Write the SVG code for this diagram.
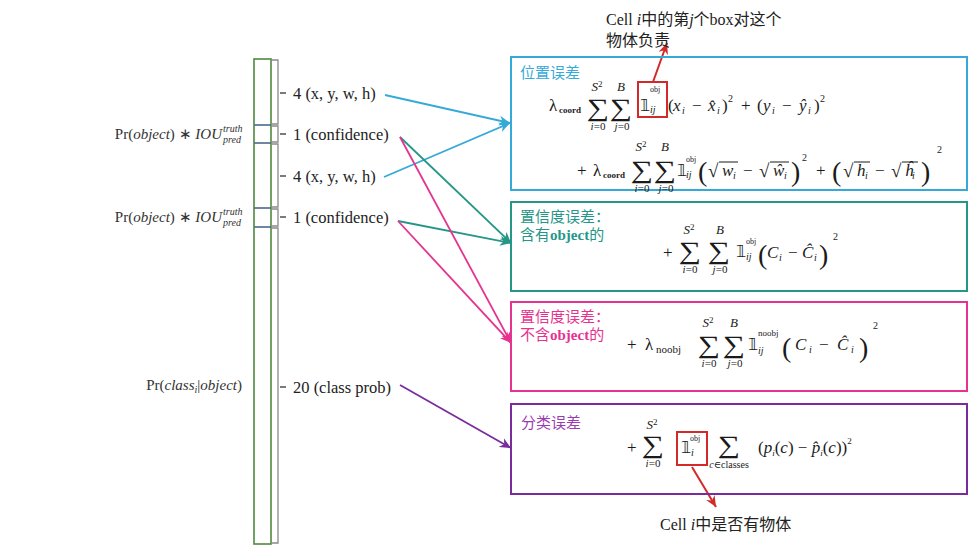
<svg xmlns="http://www.w3.org/2000/svg" width="979" height="558" viewBox="0 0 979 558">
<style>
.m{font-family:"Liberation Serif","DejaVu Serif",serif;fill:#1a1a1a}
.i{font-style:italic}
.sig{font-size:25px;text-anchor:middle}
.lim{font-size:11px;text-anchor:middle}
.sup{font-size:13px;text-anchor:middle}
.sm{font-size:10px}
.bb{font-family:"DejaVu Sans","DejaVu Serif",serif;font-size:16px;fill:#1a1a1a}
.lbl{font-family:"Liberation Serif",serif;font-size:16.5px;fill:#222}
.pr{font-family:"Liberation Serif",serif;font-size:15px;fill:#333}
.cn{font-family:"Liberation Serif","Noto Sans CJK SC",sans-serif;font-size:15px}
.ann{font-family:"Liberation Serif","Noto Sans CJK SC",serif;font-size:16px;fill:#222}
.box{fill:none;stroke-width:2}
.con{fill:none;stroke-width:1.8}
.red{fill:none;stroke:#d22a2a;stroke-width:2}
.vin{stroke:#1a1a1a;stroke-width:1}
</style>
<defs>
<marker id="mc" viewBox="0 0 10 10" refX="10" refY="5" markerWidth="11" markerHeight="11" markerUnits="userSpaceOnUse" orient="auto"><path d="M0,0.5 L10,5 L0,9.5 L3,5 z" fill="#35a9d8"/></marker>
<marker id="mt" viewBox="0 0 10 10" refX="10" refY="5" markerWidth="11" markerHeight="11" markerUnits="userSpaceOnUse" orient="auto"><path d="M0,0.5 L10,5 L0,9.5 L3,5 z" fill="#259688"/></marker>
<marker id="mm" viewBox="0 0 10 10" refX="10" refY="5" markerWidth="11" markerHeight="11" markerUnits="userSpaceOnUse" orient="auto"><path d="M0,0.5 L10,5 L0,9.5 L3,5 z" fill="#e6338f"/></marker>
<marker id="mp" viewBox="0 0 10 10" refX="10" refY="5" markerWidth="11" markerHeight="11" markerUnits="userSpaceOnUse" orient="auto"><path d="M0,0.5 L10,5 L0,9.5 L3,5 z" fill="#7a2c9c"/></marker>
<marker id="mr" viewBox="0 0 10 10" refX="10" refY="5" markerWidth="11" markerHeight="11" markerUnits="userSpaceOnUse" orient="auto"><path d="M0,0.5 L10,5 L0,9.5 L3,5 z" fill="#d22a2a"/></marker>
</defs>
<rect width="979" height="558" fill="#fff"/>

<g id="column">
<rect x="254" y="59" width="17" height="485" fill="none" stroke="#4f8a3c" stroke-width="1.6"/>
<g stroke="#4a6a8a" stroke-width="1.6">
<line x1="254" y1="125" x2="271" y2="125"/><line x1="254" y1="143" x2="271" y2="143"/>
<line x1="254" y1="208" x2="271" y2="208"/><line x1="254" y1="227" x2="271" y2="227"/>
</g>
<g fill="none" stroke="#8a8a8a" stroke-width="1.3">
<path d="M271,60 H278 V124 H271"/><path d="M271,126 H278 V142 H271"/><path d="M271,144 H278 V207 H271"/><path d="M271,209 H278 V226 H271"/><path d="M271,228 H278 V543 H271"/>
</g>
<g stroke="#333" stroke-width="1.3">
<line x1="280" y1="93" x2="286" y2="93"/><line x1="280" y1="134" x2="286" y2="134"/><line x1="280" y1="176" x2="286" y2="176"/><line x1="280" y1="217" x2="286" y2="217"/><line x1="280" y1="387" x2="286" y2="387"/>
</g>
<text class="lbl" x="293" y="99">4 (x, y, w, h)</text>
<text class="lbl" x="293" y="140">1 (confidence)</text>
<text class="lbl" x="293" y="182">4 (x, y, w, h)</text>
<text class="lbl" x="293" y="223">1 (confidence)</text>
<text class="lbl" x="293" y="393">20 (class prob)</text>
<text class="pr" x="222" y="139" text-anchor="end">Pr(<tspan class="i">object</tspan>) ∗ <tspan class="i">IOU</tspan></text>
<text class="pr i" x="223" y="132" style="font-size:10px">truth</text>
<text class="pr i" x="223" y="143" style="font-size:10px">pred</text>
<text class="pr" x="222" y="222" text-anchor="end">Pr(<tspan class="i">object</tspan>) ∗ <tspan class="i">IOU</tspan></text>
<text class="pr i" x="223" y="215" style="font-size:10px">truth</text>
<text class="pr i" x="223" y="226" style="font-size:10px">pred</text>
<text class="pr" x="242" y="390" text-anchor="end">Pr(<tspan class="i">class</tspan><tspan class="i" style="font-size:10px" dy="3">i</tspan><tspan dy="-3">|</tspan><tspan class="i">object</tspan>)</text>
</g>

<g id="connectors">
<line class="con" x1="385" y1="95" x2="510" y2="123" stroke="#35a9d8" marker-end="url(#mc)"/>
<line class="con" x1="384" y1="177" x2="510" y2="123" stroke="#35a9d8" marker-end="url(#mc)"/>
<line class="con" x1="400" y1="137" x2="511" y2="243" stroke="#259688" marker-end="url(#mt)"/>
<line class="con" x1="398" y1="221" x2="511" y2="243" stroke="#259688" marker-end="url(#mt)"/>
<line class="con" x1="400" y1="137" x2="511" y2="343" stroke="#e6338f" marker-end="url(#mm)"/>
<line class="con" x1="398" y1="221" x2="511" y2="343" stroke="#e6338f" marker-end="url(#mm)"/>
<line class="con" x1="400" y1="385" x2="511" y2="448" stroke="#7a2c9c" marker-end="url(#mp)"/>
<line x1="653" y1="82" x2="667" y2="43" stroke="#d22a2a" stroke-width="2" marker-end="url(#mr)"/>
<line x1="692" y1="467" x2="716" y2="507" stroke="#d22a2a" stroke-width="2" marker-end="url(#mr)"/>
</g>

<g id="annotations">
<text class="ann" x="606" y="25">Cell <tspan font-style="italic">i</tspan>中的第<tspan font-style="italic">j</tspan>个box对这个</text>
<text class="ann" x="606" y="46">物体负责</text>
<text class="ann" x="660" y="530">Cell <tspan font-style="italic">i</tspan>中是否有物体</text>
</g>

<g id="box-location" font-size="17">
<rect class="box" x="511" y="57" width="456" height="133" stroke="#35a9d8"/>
<text class="cn" x="520" y="78" fill="#35a9d8">位置误差</text>
<rect class="red" x="638" y="82" width="29" height="35"/>
<text class="m" x="549" y="111">λ</text>
<text class="m" x="559" y="113" font-size="9" font-weight="bold">coord</text>
<text class="m sig" transform="translate(598,116) scale(1.25,1)">∑</text>
<text class="m sup i" x="597" y="91">S<tspan style="font-size:9px;font-style:normal" dy="-4">2</tspan></text>
<text class="m lim" x="598" y="130"><tspan class="i">i</tspan>=0</text>
<text class="m sig" transform="translate(621,116) scale(1.25,1)">∑</text>
<text class="m sup i" x="621" y="91">B</text>
<text class="m lim" x="622" y="130"><tspan class="i">j</tspan>=0</text>
<text class="bb" x="640" y="111">𝟙</text>
<text class="m" x="650" y="92" font-size="8">obj</text>
<text class="m i" x="650" y="113" font-size="10">ij</text>
<text class="m" x="668" y="111">(</text>
<text class="m i" x="673" y="111">x</text>
<text class="m i sm" x="682" y="114">i</text>
<text class="m" x="692" y="111">−</text>
<text class="m i" x="708" y="111">x̂</text>
<text class="m i sm" x="717" y="114">i</text>
<text class="m" x="722" y="111">)</text>
<text class="m sm" x="728" y="102">2</text>
<text class="m" x="741" y="111">+</text>
<text class="m" x="757" y="111">(</text>
<text class="m i" x="763" y="111">y</text>
<text class="m i sm" x="772" y="114">i</text>
<text class="m" x="782" y="111">−</text>
<text class="m i" x="799" y="111">ŷ</text>
<text class="m i sm" x="808" y="114">i</text>
<text class="m" x="814" y="111">)</text>
<text class="m sm" x="820" y="102">2</text>

<text class="m" x="577" y="176">+</text>
<text class="m" x="593" y="176">λ</text>
<text class="m" x="603" y="178" font-size="9" font-weight="bold">coord</text>
<text class="m sig" transform="translate(642,178) scale(1.25,1)">∑</text>
<text class="m sup i" x="641" y="151">S<tspan style="font-size:9px;font-style:normal" dy="-4">2</tspan></text>
<text class="m lim" x="642" y="192"><tspan class="i">i</tspan>=0</text>
<text class="m sig" transform="translate(665,178) scale(1.25,1)">∑</text>
<text class="m sup i" x="665" y="151">B</text>
<text class="m lim" x="666" y="192"><tspan class="i">j</tspan>=0</text>
<text class="bb" x="677" y="176">𝟙</text>
<text class="m" x="686" y="162" font-size="8">obj</text>
<text class="m i" x="686" y="178" font-size="10">ij</text>
<text class="m" x="698" y="181" font-size="28">(</text>
<text class="m" x="708" y="177" font-size="19">√</text>
<line class="vin" x1="719" y1="162" x2="738" y2="162"/>
<text class="m i" x="722" y="176">w</text>
<text class="m i sm" x="733" y="179">i</text>
<text class="m" x="743" y="176">−</text>
<text class="m" x="759" y="177" font-size="19">√</text>
<line class="vin" x1="770" y1="162" x2="789" y2="162"/>
<text class="m i" x="773" y="176">ŵ</text>
<text class="m i sm" x="784" y="179">i</text>
<text class="m" x="791" y="181" font-size="28">)</text>
<text class="m sm" x="802" y="161">2</text>
<text class="m" x="816" y="176">+</text>
<text class="m" x="832" y="181" font-size="28">(</text>
<text class="m" x="843" y="177" font-size="19">√</text>
<line class="vin" x1="854" y1="162" x2="870" y2="162"/>
<text class="m i" x="857" y="176">h</text>
<text class="m i sm" x="865" y="179">i</text>
<text class="m" x="875" y="176">−</text>
<text class="m" x="891" y="177" font-size="19">√</text>
<line class="vin" x1="902" y1="162" x2="918" y2="162"/>
<text class="m i" x="905" y="176">ĥ</text>
<text class="m i sm" x="912" y="179">i</text>
<text class="m" x="921" y="181" font-size="28">)</text>
<text class="m sm" x="937" y="153">2</text>
</g>

<g id="box-conf-obj" font-size="17">
<rect class="box" x="511" y="202" width="456" height="89" stroke="#259688"/>
<text class="cn" x="520" y="222" fill="#259688">置信度误差：</text>
<text class="cn" x="520" y="240" fill="#259688">含有<tspan font-weight="bold">object</tspan>的</text>
<text class="m" x="663" y="258">+</text>
<text class="m sig" transform="translate(690,259) scale(1.25,1)">∑</text>
<text class="m sup i" x="689" y="234">S<tspan style="font-size:9px;font-style:normal" dy="-4">2</tspan></text>
<text class="m lim" x="690" y="273"><tspan class="i">i</tspan>=0</text>
<text class="m sig" transform="translate(719,259) scale(1.25,1)">∑</text>
<text class="m sup i" x="720" y="234">B</text>
<text class="m lim" x="720" y="273"><tspan class="i">j</tspan>=0</text>
<text class="bb" x="736" y="257">𝟙</text>
<text class="m" x="746" y="244" font-size="8">obj</text>
<text class="m i" x="746" y="260" font-size="10">ij</text>
<text class="m" x="758" y="264" font-size="28">(</text>
<text class="m i" x="767" y="258">C</text>
<text class="m i sm" x="779" y="261">i</text>
<text class="m" x="788" y="258">−</text>
<text class="m i" x="802" y="258">Ĉ</text>
<text class="m i sm" x="814" y="261">i</text>
<text class="m" x="819" y="264" font-size="28">)</text>
<text class="m sm" x="833" y="240">2</text>
</g>

<g id="box-conf-noobj" font-size="17">
<rect class="box" x="511" y="302" width="456" height="89" stroke="#e6338f"/>
<text class="cn" x="520" y="322" fill="#e6338f">置信度误差：</text>
<text class="cn" x="520" y="340" fill="#e6338f">不含<tspan font-weight="bold">object</tspan>的</text>
<text class="m" x="627" y="350">+</text>
<text class="m" x="645" y="350">λ</text>
<text class="m" x="656" y="353" font-size="11">noobj</text>
<text class="m sig" transform="translate(709,353) scale(1.25,1)">∑</text>
<text class="m sup i" x="708" y="327">S<tspan style="font-size:9px;font-style:normal" dy="-4">2</tspan></text>
<text class="m lim" x="709" y="367"><tspan class="i">i</tspan>=0</text>
<text class="m sig" transform="translate(734,353) scale(1.25,1)">∑</text>
<text class="m sup i" x="734" y="327">B</text>
<text class="m lim" x="735" y="367"><tspan class="i">j</tspan>=0</text>
<text class="bb" x="748" y="350">𝟙</text>
<text class="m" x="758" y="336" font-size="9">noobj</text>
<text class="m i" x="758" y="354" font-size="10">ij</text>
<text class="m" x="782" y="357" font-size="28">(</text>
<text class="m i" x="795" y="350">C</text>
<text class="m i sm" x="809" y="353">i</text>
<text class="m" x="819" y="350">−</text>
<text class="m i" x="837" y="350">Ĉ</text>
<text class="m i sm" x="851" y="353">i</text>
<text class="m" x="859" y="357" font-size="28">)</text>
<text class="m sm" x="873" y="329">2</text>
</g>

<g id="box-class" font-size="17">
<rect class="box" x="511" y="404" width="456" height="90" stroke="#7a2c9c"/>
<text class="cn" x="521" y="428" fill="#9a3cb0">分类误差</text>
<rect class="red" x="677" y="432" width="30" height="33"/>
<text class="m" x="627" y="453">+</text>
<text class="m sig" transform="translate(653,453) scale(1.25,1)">∑</text>
<text class="m sup i" x="652" y="429">S<tspan style="font-size:9px;font-style:normal" dy="-4">2</tspan></text>
<text class="m lim" x="653" y="467"><tspan class="i">i</tspan>=0</text>
<text class="bb" x="681" y="453">𝟙</text>
<text class="m" x="690" y="441" font-size="8">obj</text>
<text class="m i" x="691" y="456" font-size="10">i</text>
<text class="m sig" transform="translate(729,453) scale(1.25,1)">∑</text>
<text class="m" x="729" y="468" font-size="10" text-anchor="middle"><tspan class="i">c</tspan>∈classes</text>
<text class="m" x="758" y="453">(<tspan class="i">p</tspan><tspan class="i" font-size="9" dy="3">i</tspan><tspan dy="-3">(</tspan><tspan class="i">c</tspan>) − <tspan class="i">p̂</tspan><tspan class="i" font-size="9" dy="3">i</tspan><tspan dy="-3">(</tspan><tspan class="i">c</tspan>))<tspan font-size="9" dy="-9">2</tspan></text>
</g>
</svg>
